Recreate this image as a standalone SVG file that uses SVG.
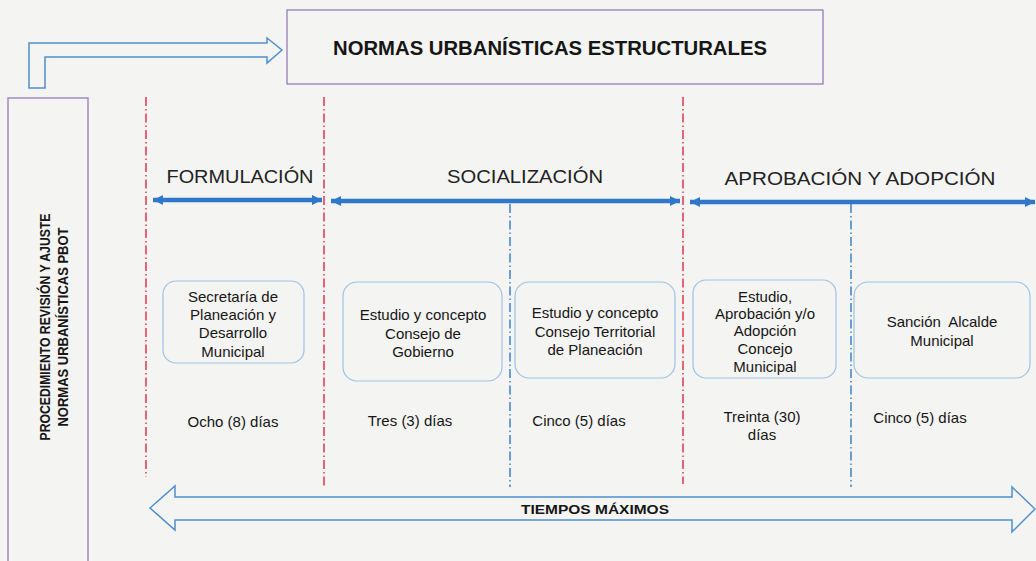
<svg xmlns="http://www.w3.org/2000/svg" width="1036" height="561" viewBox="0 0 1036 561">
<defs>
<style>
.t{font-family:"Liberation Sans",Arial,sans-serif;fill:#161616;}
.n{font-size:15px;text-anchor:middle;}
.ph{font-size:19px;text-anchor:middle;fill:#222;}
.b{font-weight:bold;}
.node{fill:none;stroke:#9fc2e4;stroke-width:1.2;}
.frame{fill:none;stroke:#8d72b3;stroke-width:1.2;}
.outl{fill:none;stroke:#4f8fcf;stroke-width:1.5;stroke-linejoin:miter;}
.red{stroke:#e2344f;stroke-width:1.5;stroke-dasharray:9 3 1.5 3;fill:none;}
.blue{stroke:#3c80c6;stroke-width:1.5;stroke-dasharray:9 3 1.5 3;fill:none;}
.thick{stroke:#2f78c9;stroke-width:4.5;fill:none;marker-start:url(#hs);marker-end:url(#he);}
</style>
<marker id="he" markerUnits="userSpaceOnUse" markerWidth="12" markerHeight="12" refX="10" refY="5" orient="auto" viewBox="0 0 12 10">
<path d="M0,0 L10,5 L0,10 Z" fill="#2f78c9"/>
</marker>
<marker id="hs" markerUnits="userSpaceOnUse" markerWidth="12" markerHeight="12" refX="0" refY="5" orient="auto" viewBox="0 0 12 10">
<path d="M10,0 L0,5 L10,10 Z" fill="#2f78c9"/>
</marker>
</defs>
<rect width="1036" height="561" fill="#f4f4f2"/>

<g id="title">
<rect class="frame" x="287" y="10" width="536" height="74"/>
<text class="t b" x="550" y="55" font-size="21" text-anchor="middle" textLength="434" lengthAdjust="spacingAndGlyphs">NORMAS URBANÍSTICAS ESTRUCTURALES</text>
</g>

<g id="side-label">
<rect class="frame" x="8" y="98" width="80" height="480"/>
<text class="t b" font-size="15" text-anchor="middle" transform="translate(50,327) rotate(-90)" textLength="227" lengthAdjust="spacingAndGlyphs">PROCEDIMIENTO REVISIÓN Y AJUSTE</text>
<text class="t b" font-size="15" text-anchor="middle" transform="translate(68,327) rotate(-90)" textLength="199" lengthAdjust="spacingAndGlyphs">NORMAS URBANÍSTICAS  PBOT</text>
</g>

<g id="phase-formulacion">
<text class="t ph" x="240" y="183" textLength="147" lengthAdjust="spacingAndGlyphs">FORMULACIÓN</text>
</g>
<g id="phase-socializacion">
<text class="t ph" x="525" y="183" textLength="156" lengthAdjust="spacingAndGlyphs">SOCIALIZACIÓN</text>
</g>
<g id="phase-aprobacion">
<text class="t ph" x="860" y="185" textLength="271" lengthAdjust="spacingAndGlyphs">APROBACIÓN Y ADOPCIÓN</text>
</g>

<g id="connectors">
<path class="outl" d="M29,88 L29,43 L267,43 L267,38 L282,50 L267,63 L267,57 L45,57 L45,88 Z"/>
<line class="red" x1="146" y1="97" x2="146" y2="477"/>
<line class="red" x1="324" y1="97" x2="324" y2="487"/>
<line class="red" x1="683" y1="97" x2="683" y2="484"/>
<line class="blue" x1="510" y1="204" x2="510" y2="487"/>
<line class="blue" x1="851" y1="204" x2="851" y2="487"/>
<line class="thick" x1="153" y1="200" x2="322" y2="200"/>
<line class="thick" x1="331" y1="201" x2="680" y2="201"/>
<line class="thick" x1="690" y1="202" x2="1035" y2="202"/>
<path class="outl" d="M150,508 L175,486 L175,497 L1012,497 L1012,487 L1035,509 L1012,532 L1012,520 L175,520 L175,530 Z"/>
</g>

<g id="tiempos-label">
<text class="t b" x="595" y="514" font-size="13" text-anchor="middle" textLength="148" lengthAdjust="spacingAndGlyphs">TIEMPOS MÁXIMOS</text>
</g>

<g id="node-secretaria">
<rect class="node" x="163" y="281" width="141" height="82" rx="13"/>
<text class="t n" x="233" y="302">Secretaría de</text>
<text class="t n" x="233" y="320">Planeación y</text>
<text class="t n" x="233" y="338">Desarrollo</text>
<text class="t n" x="233" y="357">Municipal</text>
<text class="t n" x="233" y="427">Ocho (8) días</text>
</g>

<g id="node-consejo-gobierno">
<rect class="node" x="343" y="282" width="159" height="99" rx="14"/>
<text class="t n" x="423" y="320">Estudio y concepto</text>
<text class="t n" x="423" y="339">Consejo de</text>
<text class="t n" x="423" y="357">Gobierno</text>
<text class="t n" x="410" y="426">Tres (3) días</text>
</g>

<g id="node-consejo-territorial">
<rect class="node" x="515" y="282" width="160" height="96" rx="14"/>
<text class="t n" x="595" y="318">Estudio y concepto</text>
<text class="t n" x="595" y="337">Consejo Territorial</text>
<text class="t n" x="595" y="355">de Planeación</text>
<text class="t n" x="579" y="426">Cinco (5) días</text>
</g>

<g id="node-concejo-municipal">
<rect class="node" x="693" y="280" width="143" height="98" rx="13"/>
<text class="t n" x="765" y="302">Estudio,</text>
<text class="t n" x="765" y="319">Aprobación y/o</text>
<text class="t n" x="765" y="336">Adopción</text>
<text class="t n" x="765" y="354">Concejo</text>
<text class="t n" x="765" y="372">Municipal</text>
<text class="t n" x="762" y="422">Treinta (30)</text>
<text class="t n" x="762" y="440">días</text>
</g>

<g id="node-sancion">
<rect class="node" x="854" y="282" width="176" height="96" rx="14"/>
<text class="t n" x="942" y="327" font-size="16" word-spacing="4">Sanción Alcalde</text>
<text class="t n" x="942" y="346" font-size="16">Municipal</text>
<text class="t n" x="920" y="423">Cinco (5) días</text>
</g>
</svg>
